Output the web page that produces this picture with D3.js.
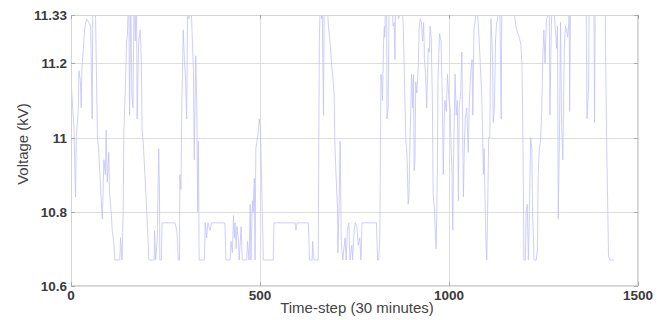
<!DOCTYPE html>
<html>
<head>
<meta charset="utf-8">
<script src="https://cdn.jsdelivr.net/npm/d3@7"></script>
<style>
  body { margin: 0; background: #fff; }
  svg { display: block; }
</style>
</head>
<body>
<svg width="668" height="320"></svg>
<script>
// time-step (x) of each point
const steps = [
    0, 5, 8, 11, 12, 14, 19, 21, 25, 27, 29, 32, 36, 41, 47, 52, 56, 58, 63, 65,
    70, 73, 76, 80, 83, 85, 87, 91, 93, 96, 100, 102, 107, 109, 113, 116, 129, 131, 135, 138,
    140, 144, 147, 149, 153, 155, 158, 161, 164, 167, 170, 173, 175, 179, 183, 186, 188, 191, 195, 198,
    200, 204, 206, 220, 221, 224, 228, 232, 234, 235, 239, 241, 275, 280, 284, 287, 288, 291, 293, 297,
    300, 303, 306, 309, 312, 316, 319, 324, 326, 330, 333, 335, 337, 339, 353, 355, 359, 362, 368, 372,
    407, 410, 421, 423, 427, 430, 432, 434, 437, 439, 443, 445, 450, 453, 465, 467, 471, 474, 476, 480,
    482, 485, 487, 489, 492, 496, 498, 501, 503, 506, 509, 535, 537, 593, 595, 598, 628, 631, 638, 639,
    643, 654, 657, 660, 663, 664, 668, 670, 676, 681, 685, 690, 692, 696, 698, 701, 705, 706, 709, 712,
    715, 719, 722, 725, 728, 731, 735, 738, 743, 745, 749, 752, 756, 760, 764, 767, 770, 808, 811, 814,
    817, 820, 822, 824, 827, 829, 830, 833, 835, 836, 839, 842, 848, 852, 855, 857, 859, 866, 870, 874,
    879, 883, 886, 889, 892, 894, 897, 901, 904, 906, 908, 910, 912, 915, 919, 921, 924, 927, 930, 933,
    935, 938, 941, 942, 945, 948, 950, 953, 956, 958, 961, 964, 966, 969, 971, 975, 979, 982, 985, 987,
    989, 993, 996, 1000, 1003, 1005, 1008, 1010, 1012, 1016, 1019, 1022, 1025, 1027, 1031, 1034, 1038, 1041, 1043, 1047,
    1051, 1054, 1057, 1061, 1063, 1066, 1070, 1073, 1077, 1080, 1084, 1087, 1091, 1093, 1096, 1098, 1100, 1102, 1105, 1108,
    1111, 1115, 1117, 1120, 1123, 1126, 1129, 1131, 1135, 1138, 1140, 1170, 1173, 1177, 1182, 1186, 1190, 1193, 1195, 1197,
    1198, 1202, 1204, 1207, 1210, 1212, 1216, 1219, 1221, 1225, 1231, 1234, 1236, 1239, 1242, 1245, 1248, 1251, 1254, 1258,
    1263, 1265, 1267, 1270, 1273, 1280, 1285, 1287, 1289, 1292, 1295, 1298, 1301, 1303, 1305, 1308, 1311, 1314, 1317, 1318,
    1319, 1322, 1362, 1363, 1365, 1369, 1371, 1383, 1385, 1387, 1413, 1414, 1417, 1420, 1422, 1426, 1436
];

// voltage (kV) at each of those steps; values above 11.33 run off the top of the axes
const volts = [
    11.16, 11.07, 11.02, 10.88, 10.84, 11.0, 11.07, 11.18, 11.15, 11.08, 11.19, 11.23, 11.29, 11.32, 11.31, 11.30, 11.05, 11.40, 11.40, 11.32,
    11.0, 10.97, 10.91, 10.83, 10.78, 10.86, 10.94, 10.90, 11.02, 10.88, 10.96, 10.85, 10.79, 10.75, 10.72, 10.67, 10.67, 10.73, 10.67, 10.80,
    11.02, 11.14, 11.26, 11.27, 11.40, 11.06, 11.40, 11.12, 11.08, 11.40, 11.26, 11.40, 11.05, 11.26, 11.29, 11.21, 11.02, 10.99, 10.91, 10.85,
    10.81, 10.72, 10.67, 10.67, 10.75, 10.67, 10.72, 10.97, 10.87, 10.67, 10.67, 10.77, 10.77, 10.75, 10.67, 10.67, 10.90, 10.86, 11.08, 11.29,
    11.21, 11.16, 11.05, 11.40, 11.32, 11.40, 11.32, 11.18, 10.94, 11.22, 11.08, 10.80, 10.99, 10.67, 10.67, 10.77, 10.73, 10.77, 10.75, 10.77,
    10.77, 10.67, 10.67, 10.72, 10.69, 10.79, 10.73, 10.77, 10.70, 10.76, 10.72, 10.67, 10.76, 10.67, 10.67, 10.72, 10.67, 10.82, 10.67, 10.83,
    10.80, 10.89, 10.67, 10.97, 10.99, 11.02, 11.05, 11.03, 10.94, 10.80, 10.67, 10.67, 10.77, 10.77, 10.75, 10.77, 10.77, 10.67, 10.67, 10.72,
    10.67, 10.67, 11.26, 11.40, 11.32, 11.40, 11.06, 11.40, 11.40, 11.30, 11.26, 11.19, 11.17, 11.12, 10.99, 10.90, 10.81, 10.69, 10.81, 10.99,
    10.72, 10.67, 10.70, 10.73, 10.67, 10.75, 10.77, 10.67, 10.71, 10.67, 10.75, 10.77, 10.76, 10.71, 10.73, 10.67, 10.77, 10.77, 10.67, 10.67,
    10.73, 11.17, 11.15, 11.10, 11.26, 11.30, 11.27, 11.40, 11.33, 11.05, 11.08, 11.40, 11.40, 11.30, 11.31, 11.21, 11.40, 11.32, 11.33, 11.40,
    11.30, 11.12, 10.99, 10.95, 10.82, 10.84, 11.00, 11.17, 11.08, 11.17, 10.91, 10.94, 11.15, 11.12, 11.20, 11.29, 11.32, 11.31, 11.26, 11.31,
    11.21, 11.17, 11.08, 11.12, 11.24, 11.23, 11.30, 11.27, 11.10, 10.85, 10.81, 10.74, 10.70, 10.90, 11.17, 11.28, 11.26, 11.12, 10.90, 11.03,
    11.10, 11.07, 11.17, 11.10, 11.08, 10.99, 10.90, 10.75, 10.94, 11.17, 11.06, 11.10, 10.83, 11.08, 11.12, 11.23, 10.84, 10.99, 11.05, 11.08,
    10.96, 11.10, 11.17, 11.21, 11.06, 11.29, 11.32, 11.40, 11.31, 11.26, 11.17, 11.10, 10.90, 10.97, 10.80, 10.71, 10.67, 10.79, 11.00, 11.00,
    11.32, 11.22, 11.04, 11.08, 11.26, 11.31, 11.32, 11.40, 11.32, 11.05, 11.40, 11.40, 11.33, 11.30, 11.28, 11.27, 11.25, 11.20, 11.05, 10.84,
    10.67, 10.67, 10.80, 10.82, 10.67, 10.76, 11.00, 10.97, 10.80, 10.67, 10.67, 10.70, 10.90, 10.97, 10.99, 11.06, 11.21, 11.29, 11.20, 11.32,
    11.33, 11.40, 11.06, 11.26, 11.40, 11.31, 11.24, 11.30, 10.78, 10.99, 11.31, 11.03, 10.94, 11.08, 11.24, 11.30, 11.29, 11.27, 11.31, 11.40,
    11.07, 11.40, 11.40, 11.33, 11.05, 11.13, 11.40, 11.40, 11.04, 11.40, 11.40, 11.26, 10.99, 10.81, 10.68, 10.67, 10.67
];

// axis ticks
const xTicks = [0, 500, 1000, 1500];
const yTicks = [10.6, 10.8, 11, 11.2, 11.33];

const data = steps.map((s, i) => ({ t: s, v: volts[i] }));

// 畫布
const width = 668;
const height = 320;
const margin = { top: 15, right: 30, bottom: 34, left: 71 };
const svg = d3.select("svg");

const x = d3.scaleLinear()
    .domain([0, 1500])
    .range([margin.left, width - margin.right]);

const y = d3.scaleLinear()
    .domain([10.6, 11.33])
    .range([height - margin.bottom, margin.top]);

const gridColor = "#dedede";

// 格線
svg.append("g")
    .selectAll("line")
    .data(yTicks)
    .join("line")
    .attr("x1", margin.left)
    .attr("x2", width - margin.right)
    .attr("y1", (d) => Math.round(y(d)) + 0.5)
    .attr("y2", (d) => Math.round(y(d)) + 0.5)
    .attr("stroke", gridColor);

svg.append("g")
    .selectAll("line")
    .data(xTicks)
    .join("line")
    .attr("x1", (d) => Math.round(x(d)) + 0.5)
    .attr("x2", (d) => Math.round(x(d)) + 0.5)
    .attr("y1", margin.top)
    .attr("y2", height - margin.bottom)
    .attr("stroke", gridColor);

// 資料線 (clipped to the axes box)
svg.append("clipPath")
    .attr("id", "plot-clip")
    .append("rect")
    .attr("x", margin.left)
    .attr("y", margin.top)
    .attr("width", width - margin.left - margin.right)
    .attr("height", height - margin.top - margin.bottom);

const line = d3.line()
    .x((d) => x(d.t))
    .y((d) => y(d.v));

svg.append("path")
    .datum(data)
    .attr("clip-path", "url(#plot-clip)")
    .attr("fill", "none")
    .attr("stroke", "#c2c2fd")
    .attr("stroke-width", 0.8)
    .attr("d", line);

// 外框
svg.append("rect")
    .attr("x", margin.left + 0.5)
    .attr("y", margin.top + 0.5)
    .attr("width", width - margin.left - margin.right - 1)
    .attr("height", height - margin.top - margin.bottom - 1)
    .attr("fill", "none")
    .attr("stroke", "#d4d4d4");

// inner tick marks, MATLAB style
const tickLen = 4;
const tickColor = "#aaaaaa";
const ticks = svg.append("g").attr("stroke", tickColor);
yTicks.forEach((d) => {
    const yy = Math.round(y(d)) + 0.5;
    ticks.append("line").attr("x1", margin.left).attr("x2", margin.left + tickLen).attr("y1", yy).attr("y2", yy);
    ticks.append("line").attr("x1", width - margin.right - tickLen).attr("x2", width - margin.right).attr("y1", yy).attr("y2", yy);
});
xTicks.forEach((d) => {
    const xx = Math.round(x(d)) + 0.5;
    ticks.append("line").attr("x1", xx).attr("x2", xx).attr("y1", height - margin.bottom - tickLen).attr("y2", height - margin.bottom);
    ticks.append("line").attr("x1", xx).attr("x2", xx).attr("y1", margin.top).attr("y2", margin.top + tickLen);
});

// 刻度文字
const tickFont = "bold 13.5px 'Liberation Sans', Arial, sans-serif";

svg.append("g")
    .selectAll("text")
    .data(yTicks)
    .join("text")
    .attr("x", margin.left - 4)
    .attr("y", (d) => y(d) + 5)
    .attr("text-anchor", "end")
    .style("font", tickFont)
    .attr("fill", "#3a3a3a")
    .text((d) => String(d));

svg.append("g")
    .selectAll("text")
    .data(xTicks)
    .join("text")
    .attr("x", (d) => x(d))
    .attr("y", height - margin.bottom + 14)
    .attr("text-anchor", "middle")
    .style("font", tickFont)
    .attr("fill", "#3a3a3a")
    .text((d) => String(d));

// 軸標題
svg.append("text")
    .attr("x", 357)
    .attr("y", 313)
    .attr("text-anchor", "middle")
    .style("font", "15px 'Liberation Sans', Arial, sans-serif")
    .attr("fill", "#444")
    .text("Time-step (30 minutes)");

svg.append("text")
    .attr("transform", "translate(28,144) rotate(-90)")
    .attr("text-anchor", "middle")
    .style("font", "15px 'Liberation Sans', Arial, sans-serif")
    .attr("fill", "#444")
    .text("Voltage (kV)");
</script>
</body>
</html>
